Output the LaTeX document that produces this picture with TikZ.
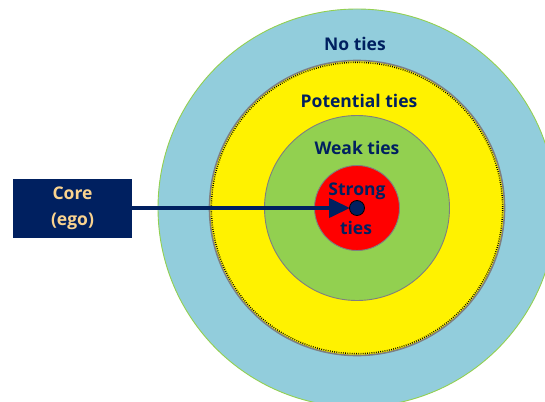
\documentclass[tikz,border=0pt]{standalone}
\usepackage{fontspec}
\setmainfont{Open Sans}
\usetikzlibrary{arrows.meta}
\definecolor{navy}{HTML}{002060}
\definecolor{ringblue}{HTML}{92CDDC}
\definecolor{ringgreen}{HTML}{92D050}
\definecolor{coretext}{HTML}{FAD38F}
\definecolor{ringgray}{HTML}{7F7F7F}
\tikzset{
  ring/.style={circle, inner sep=0pt, draw=ringgray, line width=0.9pt},
  lbl/.style={font=\bfseries\fontsize{17.5}{21}\selectfont, text=navy, inner sep=0pt},
}
\begin{document}
\begin{tikzpicture}[x=1pt,y=-1pt]
\useasboundingbox (0,0) rectangle (545,401);
\clip (0,0) rectangle (545,401);
\node[ring, draw=ringgreen, fill=ringblue, minimum size=398pt] (outer) at (357,208) {};
\node[ring, fill=yellow, minimum size=295pt, line width=1.6pt] (potential) at (357,208) {};
\draw[black, line width=1.4pt, dash pattern=on 0.8pt off 1.4pt] (357,208) circle (145.6);
\node[ring, fill=ringgreen, minimum size=185pt] (weak) at (357,208) {};
\node[ring, fill=red, minimum size=85pt] (strong) at (357,208) {};
\node[lbl] (noties) at (355,43.5) {No ties};
\node[lbl] (pot) at (359,101) {Potential ties};
\node[lbl] (weaklbl) at (357,147.5) {Weak ties};
\node[lbl] (stronglbl) at (357,191) {Strong};
\node[lbl] (tieslbl) at (356,227.5) {ties};
\node[fill=navy, minimum width=119pt, minimum height=59pt, inner sep=0pt,
      align=center, text=coretext, font=\bfseries\fontsize{17.5}{26.5}\selectfont] (core) at (72.5,208.5) {Core\\(ego)};
\coordinate (tip) at (350,208);
\draw[navy, line width=4pt, -{Triangle[length=21pt,width=19pt]}] (core.east |- tip) -- (tip);
\node[circle, fill=navy, draw=black, line width=0.8pt, minimum size=15pt, inner sep=0pt] (ego) at (357,208) {};
\end{tikzpicture}
\end{document}
